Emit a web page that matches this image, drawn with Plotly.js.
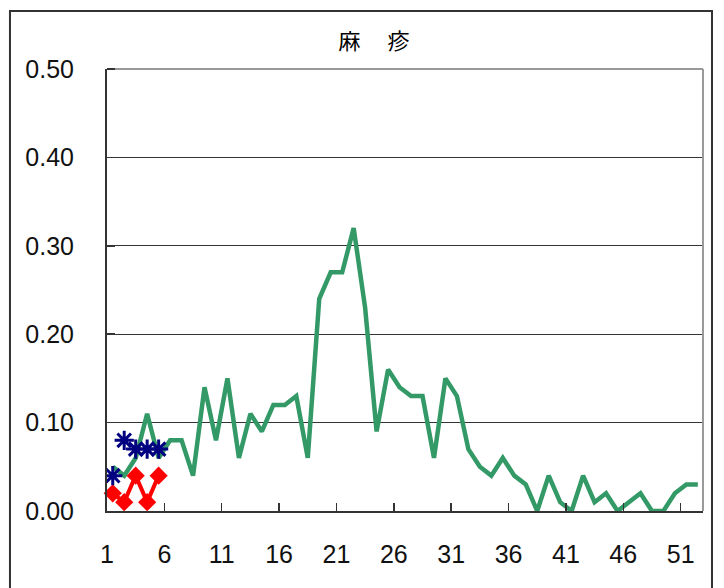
<!DOCTYPE html>
<html>
<head>
<meta charset="utf-8">
<script src="https://cdn.plot.ly/plotly-3.0.1.min.js"></script>
<style>html,body{margin:0;padding:0;background:#fff;}#chart{width:724px;height:588px;}</style>
</head>
<body>
<div id="chart"></div>
<script>
const weeks = [1,2,3,4,5,6,7,8,9,10,11,12,13,14,15,16,17,18,19,20,21,22,23,24,25,26,27,28,29,30,31,32,33,34,35,36,37,38,39,40,41,42,43,44,45,46,47,48,49,50,51,52];
const seriesGreen = [0.05,0.04,0.06,0.11,0.06,0.08,0.08,0.04,0.14,0.08,0.15,0.06,0.11,0.09,0.12,0.12,0.13,0.06,0.24,0.27,0.27,0.32,0.23,0.09,0.16,0.14,0.13,0.13,0.06,0.15,0.13,0.07,0.05,0.04,0.06,0.04,0.03,0.00,0.04,0.01,0.00,0.04,0.01,0.02,0.00,0.01,0.02,0.00,0.00,0.02,0.03,0.03];
const weeksRecent = [1,2,3,4,5];
const seriesRed = [0.02,0.01,0.04,0.01,0.04];
const seriesBlue = [0.04,0.08,0.07,0.07,0.07];
const tickLabels = ["1","6","11","16","21","26","31","36","41","46","51"];
const tickPositions = tickLabels.map(t => Number(t) - 0.5);
const titleText = "麻　 疹";

const traces = [
  {x: weeks, y: seriesGreen, type: 'scatter', mode: 'lines',
   line: {color: '#339966', width: 4.5}, hoverinfo: 'skip'},
  {x: weeksRecent, y: seriesRed, type: 'scatter', mode: 'lines+markers',
   line: {color: '#ff0000', width: 4},
   marker: {symbol: 'diamond', size: 14, color: '#ff0000'}, cliponaxis: false},
  {x: weeksRecent, y: seriesBlue, type: 'scatter', mode: 'markers',
   marker: {symbol: 'asterisk-open', size: 16, color: '#000080', line: {color: '#000080', width: 3}}}
];

const layout = {
  width: 724, height: 588,
  margin: {l: 107, r: 21, t: 69, b: 77},
  paper_bgcolor: '#ffffff', plot_bgcolor: '#ffffff',
  showlegend: false,
  title: {text: titleText, x: 374/724, xref: 'container', xanchor: 'center',
          y: 1 - 41/588, yref: 'container', yanchor: 'middle',
          font: {family: '"Noto Sans CJK JP", sans-serif', size: 22, color: '#000'}},
  xaxis: {range: [0.5, 52.45], tickmode: 'array', tickvals: tickPositions, ticktext: tickLabels,
          ticks: 'inside', ticklen: 8, tickwidth: 1.5, tickcolor: '#333',
          showline: true, linecolor: '#333', linewidth: 2, showgrid: false, zeroline: false,
          ticklabelstandoff: 20,
          tickfont: {family: '"Liberation Sans", Arial, sans-serif', size: 25, color: '#111'}},
  yaxis: {range: [0, 0.5], tickmode: 'array', tickvals: [0, 0.1, 0.2, 0.3, 0.4, 0.5],
          tickformat: '.2f', ticks: 'inside', ticklen: 8, tickwidth: 1.5, tickcolor: '#333',
          showline: true, linecolor: '#333', linewidth: 2,
          showgrid: true, gridcolor: '#333', gridwidth: 1, zeroline: false,
          ticklabelstandoff: 26,
          tickfont: {family: '"Liberation Sans", Arial, sans-serif', size: 25, color: '#111'}},
  shapes: [
    {type: 'rect', xref: 'paper', yref: 'paper', x0: -0.1628, x1: 1.0151, y0: -0.4, y1: 1.1312,
     line: {color: '#333', width: 2}, layer: 'below'},
    {type: 'line', xref: 'paper', yref: 'paper', x0: 0, x1: 1, y0: 1, y1: 1,
     line: {color: '#999', width: 2}},
    {type: 'line', xref: 'paper', yref: 'paper', x0: 1, x1: 1, y0: 0, y1: 1,
     line: {color: '#999', width: 2}},
    {type: 'line', xref: 'paper', yref: 'paper', x0: 0, x1: 0.0135, y0: 1, y1: 1,
     line: {color: '#333', width: 2}}
  ]
};

Plotly.newPlot('chart', traces, layout, {displayModeBar: false, staticPlot: true});
</script>
</body>
</html>
